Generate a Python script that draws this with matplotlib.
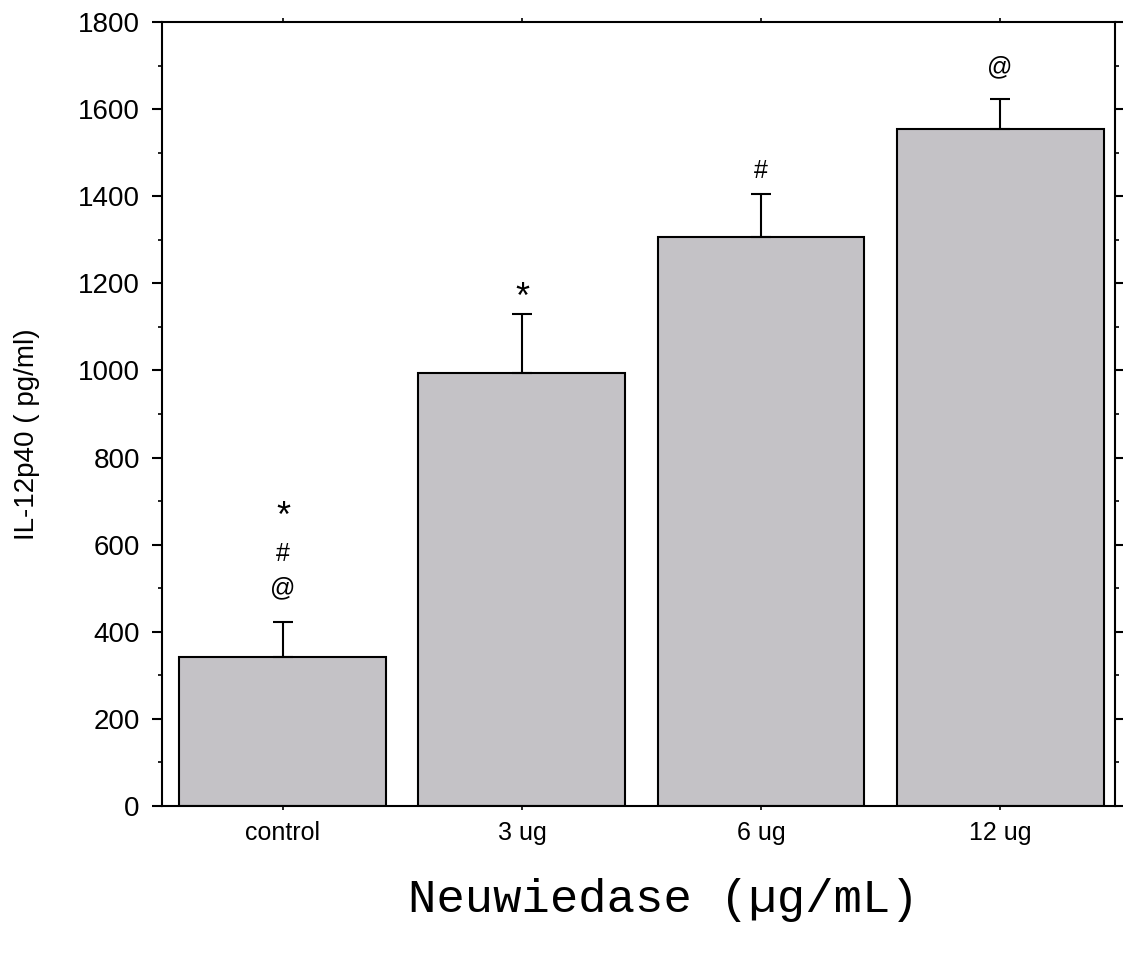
import matplotlib
matplotlib.use("Agg")
import matplotlib.pyplot as plt
from matplotlib.ticker import MultipleLocator

# values
groups = ["control", "3 ug", "6 ug", "12 ug"]
means = [342, 993, 1307, 1555]
errors = [80, 137, 97, 68]

# significance marks above each bar (text, y position)
marks = [
    [("*", 662), ("#", 578), ("@", 500)],
    [("*", 1166)],
    [("#", 1458)],
    [("@", 1697)],
]

plt.rcParams['font.family'] = ['Liberation Sans', 'DejaVu Sans']

fig = plt.figure(figsize=(11.23, 9.6), dpi=100)
ax = fig.add_axes([162 / 1123, 1 - 806 / 960, (1115 - 162) / 1123, (806 - 22) / 960])

x = list(range(len(groups)))
ax.bar(x, means, width=0.866, color="#c4c2c6", edgecolor="black", linewidth=1.5, zorder=2)
ax.errorbar(x, means, yerr=[[0] * len(errors), errors], fmt="none", ecolor="black",
            elinewidth=1.5, capsize=7, capthick=1.5, zorder=3)

for i, lst in enumerate(marks):
    for txt, yy in lst:
        if txt == "*":
            ax.text(i, yy, txt, ha="center", va="center", fontsize=26, color="black")
        else:
            ax.text(i, yy, txt, ha="center", va="center", fontsize=18, color="black")

ax.set_xlim(-0.506, 3.481)
ax.set_ylim(0, 1800)
ax.yaxis.set_major_locator(MultipleLocator(200))
ax.yaxis.set_minor_locator(MultipleLocator(100))
ax.set_xticks(x)
ax.set_xticklabels(groups)

for s in ax.spines.values():
    s.set_linewidth(1.5)

ax.tick_params(axis="y", which="major", direction="out", length=7, width=1.5,
               labelsize=20, pad=9, right=True)
ax.tick_params(axis="y", which="minor", direction="out", length=3, width=1.2, right=True)
ax.tick_params(axis="x", which="major", direction="out", length=3, width=1.2,
               labelsize=18, pad=8, top=True)

ax.set_xlabel("Neuwiedase (µg/mL)", fontsize=34, family="Liberation Mono", va="center")
ax.xaxis.set_label_coords((663 - 162) / 953, -(900 - 806) / 784)
ax.set_ylabel("IL-12p40 ( pg/ml)", fontsize=20, va="center")
ax.yaxis.set_label_coords((27 - 162) / 953, (806 - 434) / 784)

fig.savefig("out.png", dpi=100)
